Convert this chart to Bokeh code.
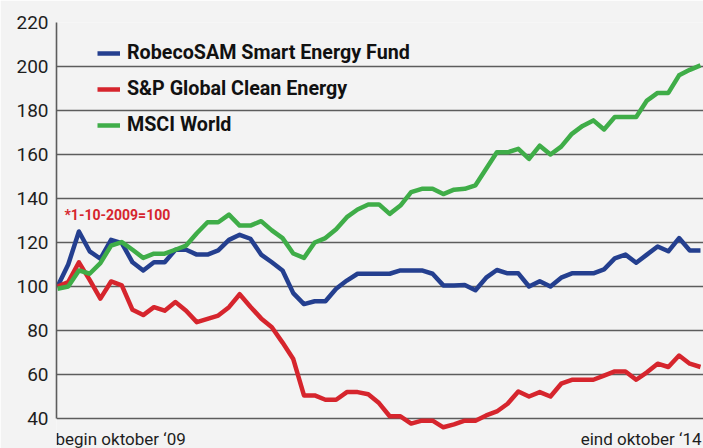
from bokeh.plotting import figure
from bokeh.models import (Range1d, Legend, LegendItem, Label, FixedTicker, ColumnDataSource)
from bokeh.embed import file_html
from bokeh.resources import INLINE

# ---- data (index 1-10-2009 = 100), monthly from begin oktober '09 to eind oktober '14
months = list(range(61))
robecosam = [100, 110, 125, 116, 112.6, 121.2, 119.7, 111, 107.3, 111,
             111, 116.7, 116.7, 114.5, 114.5, 116.4, 121.2, 123.5, 121.7, 114.5,
             111, 107.3, 97, 92, 93.3, 93.3, 99, 102.7, 105.8, 105.8,
             105.8, 105.8, 107.3, 107.3, 107.3, 105.8, 100.5, 100.5, 100.7, 98.3,
             104, 107.5, 106, 106, 100, 102.4, 100, 104, 106, 106,
             106, 107.8, 112.8, 114.5, 110.8, 114.5, 118.2, 116, 122, 116.4, 116.4]
sp_clean = [100, 102, 111, 103, 94.5, 102.3, 100.5, 89.4, 87, 90.6,
            89, 92.9, 89, 83.8, 85.3, 86.8, 90.6, 96.5, 90.8, 85.5,
            81.5, 74.5, 67, 50.5, 50.5, 48.5, 48.5, 52, 52, 51,
            47, 41, 41, 37.7, 39, 39, 36, 37.3, 39, 39,
            41.4, 43.2, 46.7, 52.3, 50, 52, 50, 55.8, 57.6, 57.6,
            57.6, 59.5, 61.4, 61.4, 57.6, 61, 64.9, 63.4, 68.6, 64.9, 63.4]
msci_world = [99, 100, 107.3, 105.8, 110.6, 118.6, 120.2, 116.7, 113, 114.9,
              114.9, 116.7, 118.6, 124.2, 129.2, 129.2, 132.7, 127.7, 127.7, 129.7,
              125.5, 122, 115, 113, 120, 122, 126, 131.5, 135, 137.3,
              137.3, 133, 136.8, 142.9, 144.4, 144.4, 142, 144, 144.4, 146,
              153.5, 161, 161, 162.6, 158, 164, 160, 163.6, 169.4, 173,
              175.5, 171.4, 177, 177, 177, 184.5, 188, 188, 196, 198.5, 200.5]

series_names = ["RobecoSAM Smart Energy Fund", "S&P Global Clean Energy", "MSCI World"]
series_colors = ["#243f8f", "#d6252d", "#3fad48"]
y_ticks = [40, 60, 80, 100, 120, 140, 160, 180, 200, 220]
x_label_start = "begin oktober \u201809"
x_label_end = "eind oktober \u201814"
note_text = "*1-10-2009=100"

BG = "#f3f3f3"
GRID = "#5c5c5c"
FONT = "Roboto"

p = figure(width=703, height=448, output_backend="svg", toolbar_location=None,
           x_axis_location=None, y_axis_location="left",
           x_range=Range1d(-0.093, 60.28), y_range=Range1d(26.36, 220),
           min_border_left=56, min_border_right=0, min_border_top=22, min_border_bottom=0)
p.background_fill_color = BG
p.border_fill_color = BG
p.outline_line_color = None

p.yaxis.ticker = FixedTicker(ticks=y_ticks)
p.yaxis.bounds = (40, 220)
p.yaxis.major_tick_line_color = None
p.yaxis.minor_tick_line_color = None
p.yaxis.major_tick_out = 0
p.yaxis.major_label_standoff = 8
p.yaxis.axis_line_color = GRID
p.yaxis.axis_line_width = 1.6
p.yaxis.major_label_text_font = FONT
p.yaxis.major_label_text_font_size = "19px"
p.yaxis.major_label_text_color = "#1e1e1e"

p.xgrid.grid_line_color = None
p.ygrid.ticker = FixedTicker(ticks=y_ticks)
p.ygrid.grid_line_color = GRID
p.ygrid.grid_line_width = 1.6

src = ColumnDataSource(dict(x=months, a=robecosam, b=sp_clean, c=msci_world))
renderers = []
for col, color in zip(["a", "b", "c"], series_colors):
    r = p.line("x", col, source=src, line_color=color, line_width=4.5, line_join="round")
    renderers.append(r)

legend = Legend(items=[LegendItem(label=n, renderers=[r]) for n, r in zip(series_names, renderers)],
                location=(41, 312), orientation="vertical")
legend.glyph_width = 23
legend.glyph_height = 22
legend.label_height = 22
legend.spacing = 13
legend.padding = 0
legend.margin = 0
legend.label_standoff = 7
legend.label_text_font = FONT
legend.label_text_font_size = "19.7px"
legend.label_text_font_style = "bold"
legend.label_text_color = "#111111"
legend.border_line_color = None
legend.background_fill_alpha = 0
p.add_layout(legend, "center")

p.add_layout(Label(x=0, y=132.5, x_offset=7, text=note_text, text_font=FONT,
                   text_font_size="14px", text_font_style="bold", text_color="#d6252d",
                   text_baseline="alphabetic", text_align="left"))
p.add_layout(Label(x=0, y=40, x_offset=-2, y_offset=-21, text=x_label_start, text_font=FONT,
                   text_font_size="17px", text_color="#1e1e1e",
                   text_baseline="alphabetic", text_align="left"))
p.add_layout(Label(x=60, y=40, x_offset=1, y_offset=-21, text=x_label_end, text_font=FONT,
                   text_font_size="17px", text_color="#1e1e1e",
                   text_baseline="alphabetic", text_align="right"))

open("out.html", "w").write(file_html(p, INLINE))
